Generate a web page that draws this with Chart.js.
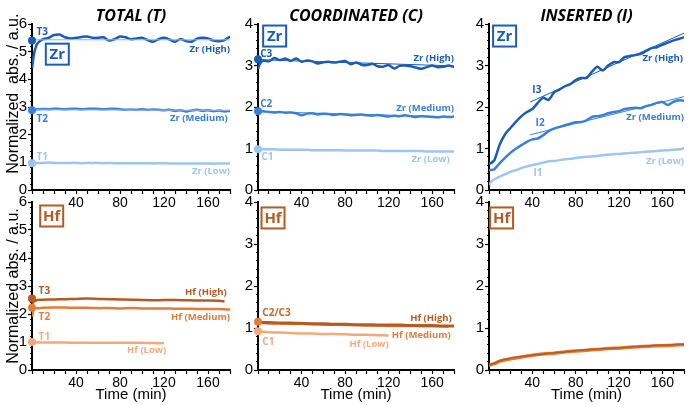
<!DOCTYPE html>
<html>
<head>
<meta charset="utf-8">
<script src="https://cdn.jsdelivr.net/npm/chart.js@4.4.1/dist/chart.umd.min.js"></script>
<style>
  body { margin: 0; background: #fff; }
  #wrap { position: relative; width: 690px; height: 405px; overflow: hidden; }
  #wrap canvas { position: absolute; }
</style>
</head>
<body>
<div id="wrap">
  <canvas id="zrTotal" width="236" height="214" style="left:0;top:0"></canvas>
  <canvas id="zrCoord" width="232" height="214" style="left:228px;top:0"></canvas>
  <canvas id="zrIns" width="231" height="214" style="left:459px;top:0"></canvas>
  <canvas id="hfTotal" width="236" height="215" style="left:0;top:190px"></canvas>
  <canvas id="hfCoord" width="232" height="215" style="left:228px;top:190px"></canvas>
  <canvas id="hfIns" width="231" height="215" style="left:459px;top:190px"></canvas>
</div>
<script>
// sampling times (min)
const timeZr = [0, 2, 5, 10, 15, 20, 25, 30, 35, 40, 45, 50, 55, 60, 65, 70, 75, 80, 85, 90, 95, 100,
  105, 110, 115, 120, 125, 130, 135, 140, 145, 150, 155, 160, 165, 170, 175, 180];
const timeHf = [0, 2, 5, 10, 20, 30, 40, 50, 60, 70, 80, 90, 100, 110, 120, 130, 140, 150, 160, 170, 175, 180];
const fitSpan = [0, 180];
const fitSpanIns = [38, 180];

// Zr - total
const zrTotHigh = [4.4, 4.95, 5.3, 5.45, 5.5, 5.6, 5.62, 5.52, 5.48, 5.5, 5.53, 5.55, 5.5, 5.5, 5.52, 5.4, 5.45, 5.55, 5.52,
  5.45, 5.48, 5.5, 5.42, 5.36, 5.45, 5.5, 5.44, 5.36, 5.46, 5.38, 5.36, 5.47, 5.5, 5.48, 5.4, 5.38, 5.42, 5.55];
const zrTotMed = [2.88, 2.9, 2.92, 2.93, 2.92, 2.94, 2.93, 2.92, 2.93, 2.94, 2.92, 2.93, 2.94, 2.93, 2.92, 2.93, 2.94, 2.92, 2.9,
  2.91, 2.9, 2.92, 2.9, 2.91, 2.9, 2.88, 2.9, 2.86, 2.88, 2.84, 2.87, 2.9, 2.86, 2.88, 2.85, 2.87, 2.84, 2.86];
const zrTotLow = [0.98, 0.98, 0.98, 0.98, 0.99, 0.98, 0.98, 0.98, 0.98, 0.98, 0.97, 0.98, 0.98, 0.98, 0.97, 0.98, 0.97, 0.97, 0.97,
  0.97, 0.97, 0.97, 0.97, 0.96, 0.97, 0.97, 0.96, 0.96, 0.96, 0.96, 0.96, 0.96, 0.96, 0.96, 0.95, 0.96, 0.96, 0.96];
const zrTotHighFit = [5.43, 5.43];
const zrTotMedFit = [2.9, 2.88];
const zrTotMarkers = [5.4, 2.88, 0.97];

// Zr - coordinated
const zrCoHigh = [2.92, 3.05, 3.12, 3.1, 3.18, 3.13, 3.17, 3.11, 3.17, 3.09, 3.12, 3.1, 3.05, 3.08, 3.09, 3.07, 3.09, 3.11, 3.03,
  3.07, 3.02, 3.01, 3.04, 2.98, 2.97, 3.01, 2.93, 2.99, 3.0, 2.98, 2.95, 2.92, 2.96, 3.0, 2.96, 2.97, 3.0, 2.96];
const zrCoMed = [1.88, 1.89, 1.9, 1.88, 1.87, 1.88, 1.86, 1.87, 1.85, 1.8, 1.84, 1.85, 1.82, 1.84, 1.83, 1.81, 1.83, 1.82, 1.8,
  1.81, 1.82, 1.8, 1.79, 1.81, 1.79, 1.77, 1.79, 1.78, 1.8, 1.78, 1.76, 1.78, 1.77, 1.76, 1.75, 1.77, 1.76, 1.77];
const zrCoLow = [0.98, 0.98, 0.98, 0.98, 0.98, 0.97, 0.97, 0.97, 0.97, 0.97, 0.97, 0.96, 0.96, 0.96, 0.96, 0.96, 0.96, 0.95, 0.95,
  0.95, 0.95, 0.95, 0.95, 0.95, 0.94, 0.94, 0.94, 0.94, 0.94, 0.94, 0.94, 0.94, 0.93, 0.93, 0.93, 0.93, 0.93, 0.93];
const zrCoHighFit = [3.14, 2.99];
const zrCoMedFit = [1.89, 1.76];
const zrCoMarkers = [3.15, 1.9, 0.98];

// Zr - inserted
const zrInsHigh = [0.62, 0.65, 0.72, 1.1, 1.35, 1.5, 1.65, 1.78, 1.88, 1.95, 2.1, 2.22, 2.17, 2.35, 2.42, 2.5, 2.55, 2.65, 2.7,
  2.7, 2.85, 2.97, 2.88, 3.0, 3.08, 3.08, 3.2, 3.23, 3.25, 3.28, 3.35, 3.42, 3.44, 3.5, 3.55, 3.6, 3.64, 3.68];
const zrInsMed = [0.48, 0.48, 0.5, 0.65, 0.78, 0.9, 1.0, 1.08, 1.16, 1.22, 1.24, 1.32, 1.42, 1.48, 1.52, 1.56, 1.6, 1.63, 1.64,
  1.68, 1.76, 1.78, 1.8, 1.85, 1.88, 1.9, 1.95, 1.97, 1.98, 1.97, 2.02, 2.05, 2.1, 2.12, 2.05, 2.12, 2.16, 2.15];
const zrInsLow = [0.12, 0.2, 0.26, 0.32, 0.38, 0.44, 0.48, 0.53, 0.57, 0.6, 0.63, 0.66, 0.69, 0.7, 0.72, 0.74, 0.75, 0.77, 0.79,
  0.8, 0.81, 0.82, 0.84, 0.85, 0.86, 0.87, 0.88, 0.89, 0.9, 0.91, 0.92, 0.93, 0.94, 0.95, 0.96, 0.97, 0.98, 1.0];
const zrInsHighFit = [2.12, 3.78];
const zrInsMedFit = [1.33, 2.25];

// Hf - total
const hfTotHigh = [2.38, 2.45, 2.5, 2.51, 2.52, 2.53, 2.54, 2.55, 2.54, 2.53, 2.52, 2.51, 2.5, 2.49, 2.5, 2.5, 2.49, 2.48, 2.48, 2.47, 2.45];
const hfTotMed = [1.9, 2.22, 2.2, 2.22, 2.23, 2.23, 2.22, 2.22, 2.21, 2.21, 2.2, 2.21, 2.2, 2.2, 2.2, 2.19, 2.19, 2.18, 2.18, 2.18, 2.17, 2.16];
const hfTotLow = [0.99, 0.99, 0.98, 0.98, 0.98, 0.98, 0.97, 0.97, 0.97, 0.97, 0.97, 0.97, 0.97, 0.96, 0.96];
const hfTotMarkers = [2.55, 2.22, 1.0];

// Hf - coordinated
const hfCoHigh = [1.12, 1.13, 1.13, 1.13, 1.12, 1.12, 1.11, 1.1, 1.1, 1.09, 1.09, 1.08, 1.08, 1.07, 1.07, 1.07, 1.06, 1.06, 1.06, 1.05, 1.05, 1.05];
const hfCoMed = [1.1, 1.12, 1.12, 1.11, 1.11, 1.1, 1.1, 1.09, 1.08, 1.08, 1.07, 1.07, 1.06, 1.06, 1.05, 1.05, 1.05, 1.04, 1.04, 1.04, 1.03];
const hfCoLow = [0.93, 0.92, 0.91, 0.9, 0.89, 0.88, 0.87, 0.87, 0.86, 0.86, 0.85, 0.84, 0.84, 0.83, 0.82];
const hfCoMarkers = [1.15, 0.92];

// Hf - inserted
const hfInsHigh = [0.13, 0.14, 0.16, 0.22, 0.28, 0.32, 0.35, 0.38, 0.41, 0.43, 0.46, 0.48, 0.5, 0.51, 0.53, 0.55, 0.56, 0.58, 0.59, 0.6, 0.61, 0.61];
const hfInsMed = [0.12, 0.13, 0.15, 0.21, 0.27, 0.31, 0.35, 0.38, 0.4, 0.43, 0.45, 0.47, 0.49, 0.51, 0.52, 0.54, 0.56, 0.57, 0.58, 0.59, 0.6, 0.6];

const ZR = { high: '#1c5cb8', med: '#3a80d9', low: '#9cc5f2' };
const HF = { high: '#b55a22', med: '#e27d38', low: '#f3a97d' };

const AXIS_FONT = "'Liberation Sans', Arial, sans-serif";
const NOTE_FONT = "'Open Sans', sans-serif";
Chart.defaults.font.family = AXIS_FONT;
Chart.defaults.color = '#000';

const pts = (times, values) => values.map((v, i) => ({ x: times[i], y: v }));

const line = (times, values, color, width) => ({
    data: pts(times, values), borderColor: color, borderWidth: width,
    pointRadius: 0, tension: 0.25, fill: false
});
const fitLine = (times, values, color) => ({ ...line(times, values, color, 1), tension: 0 });
const markers = (values, colors) => ({
    data: values.map(v => ({ x: 0, y: v })), showLine: false, clip: false,
    pointRadius: 4, pointBackgroundColor: colors, pointBorderColor: colors, pointBorderWidth: 0
});

// titles, element tags and line labels, placed in data units
const notesPlugin = {
    id: 'notes',
    afterDatasetsDraw(chart, args, opts) {
        const { ctx, chartArea, scales: { x, y } } = chart;
        ctx.save();
        ctx.textBaseline = 'middle';
        if (opts.title) {
            ctx.font = `italic bold 16px ${NOTE_FONT}`;
            ctx.fillStyle = '#000';
            ctx.textAlign = 'center';
            ctx.fillText(opts.title, (chartArea.left + chartArea.right) / 2, chartArea.top - 8);
        }
        if (opts.tag) {
            const t = opts.tag;
            const cx = x.getPixelForValue(t.x), cy = y.getPixelForValue(t.y);
            ctx.strokeStyle = t.color;
            ctx.lineWidth = 2;
            ctx.strokeRect(cx - 11.5, cy - 10.5, 23, 21);
            ctx.fillStyle = t.color;
            ctx.textAlign = 'center';
            ctx.font = `bold 15px ${NOTE_FONT}`;
            ctx.fillText(t.text, cx, cy + 1);
        }
        (opts.labels || []).forEach(l => {
            ctx.font = `bold ${l.size || 9.5}px ${NOTE_FONT}`;
            ctx.fillStyle = l.color;
            ctx.textAlign = l.align || 'right';
            ctx.fillText(l.text, x.getPixelForValue(l.x), y.getPixelForValue(l.y));
        });
        ctx.restore();
    }
};

const makePanel = (id, { ymax, datasets, notes, bottomRow, yTitle }) => {
    const yWidth = yTitle ? 32 : 30;
    new Chart(document.getElementById(id), {
        type: 'line',
        data: { datasets },
        options: {
            responsive: false,
            animation: false,
            events: [],
            layout: { padding: { top: bottomRow ? 12 : 24, right: 6, left: 0, bottom: 0 } },
            plugins: { legend: { display: false }, tooltip: { enabled: false }, notes },
            scales: {
                x: {
                    type: 'linear', min: 0, max: 180,
                    border: { color: '#000', width: 2 },
                    grid: { drawOnChartArea: false, color: '#000', tickLength: 4, tickWidth: 1.2 },
                    ticks: {
                        stepSize: 10, autoSkip: false, maxRotation: 0, padding: 1,
                        font: { size: 14 },
                        callback: v => (v > 0 && v % 40 === 0) ? v : ''
                    },
                    title: { display: !!bottomRow, text: 'Time (min)', font: { size: 15 }, padding: { top: 0, bottom: 1 } },
                    afterFit: s => { s.height = bottomRow ? 35 : 24; }
                },
                y: {
                    min: 0, max: ymax, position: 'left', weight: 1,
                    border: { color: '#000', width: 2 },
                    grid: { drawOnChartArea: false, color: '#000', tickLength: 4, tickWidth: 1.2 },
                    ticks: { stepSize: 1, padding: 1, font: { size: 15 } },
                    title: { display: !!yTitle, text: yTitle, font: { size: 16 }, padding: { top: 4, bottom: 0 } },
                    afterFit: s => { s.width = yWidth; }
                },
                yMinor: {
                    min: 0, max: ymax, position: 'left', weight: 0,
                    border: { display: false },
                    grid: { drawOnChartArea: false, color: '#000', tickLength: 2, tickWidth: 1 },
                    ticks: { stepSize: 0.2, display: false },
                    afterFit: s => { s.width = 0; }
                }
            }
        },
        plugins: [notesPlugin]
    });
};

makePanel('zrTotal', {
    ymax: 6, yTitle: '      Normalized  abs. / a.u.',
    datasets: [
        markers(zrTotMarkers, [ZR.high, ZR.med, ZR.low]),
        fitLine(fitSpan, zrTotHighFit, '#8fb3e6'),
        fitLine(fitSpan, zrTotMedFit, '#8fb3e6'),
        line(timeZr, zrTotHigh, ZR.high, 2.5),
        line(timeZr, zrTotMed, ZR.med, 2.5),
        line(timeZr, zrTotLow, ZR.low, 2.5)
    ],
    notes: {
        title: 'TOTAL (T)',
        tag: { text: 'Zr', x: 23, y: 4.91, color: ZR.high },
        labels: [
            { text: 'T3', x: 4, y: 5.71, color: ZR.high, align: 'left', size: 10 },
            { text: 'T2', x: 4, y: 2.55, color: ZR.med, align: 'left', size: 10 },
            { text: 'T1', x: 4, y: 1.2, color: ZR.low, align: 'left', size: 10 },
            { text: 'Zr (High)', x: 180, y: 5.09, color: ZR.high },
            { text: 'Zr (Medium)', x: 178, y: 2.6, color: ZR.med },
            { text: 'Zr (Low)', x: 180, y: 0.69, color: ZR.low }
        ]
    }
});

makePanel('zrCoord', {
    ymax: 4,
    datasets: [
        markers(zrCoMarkers, [ZR.high, ZR.med, ZR.low]),
        fitLine(fitSpan, zrCoHighFit, ZR.high),
        fitLine(fitSpan, zrCoMedFit, ZR.med),
        line(timeZr, zrCoHigh, ZR.high, 2.5),
        line(timeZr, zrCoMed, ZR.med, 2.5),
        line(timeZr, zrCoLow, ZR.low, 2.5)
    ],
    notes: {
        title: 'COORDINATED (C)',
        tag: { text: 'Zr', x: 15.3, y: 3.71, color: ZR.high },
        labels: [
            { text: 'C3', x: 2, y: 3.28, color: ZR.high, align: 'left', size: 10 },
            { text: 'C2', x: 2, y: 2.06, color: ZR.med, align: 'left', size: 10 },
            { text: 'C1', x: 3, y: 0.8, color: ZR.low, align: 'left', size: 10 },
            { text: 'Zr (High)', x: 180, y: 3.18, color: ZR.high },
            { text: 'Zr (Medium)', x: 180, y: 1.96, color: ZR.med },
            { text: 'Zr (Low)', x: 176, y: 0.74, color: ZR.low }
        ]
    }
});

makePanel('zrIns', {
    ymax: 4,
    datasets: [
        fitLine(fitSpanIns, zrInsHighFit, ZR.high),
        fitLine(fitSpanIns, zrInsMedFit, ZR.med),
        line(timeZr, zrInsHigh, ZR.high, 2.5),
        line(timeZr, zrInsMed, ZR.med, 2.5),
        line(timeZr, zrInsLow, ZR.low, 2.5)
    ],
    notes: {
        title: 'INSERTED (I)',
        tag: { text: 'Zr', x: 14.4, y: 3.71, color: ZR.high },
        labels: [
            { text: 'I3', x: 40, y: 2.4, color: ZR.high, align: 'left', size: 10 },
            { text: 'I2', x: 43, y: 1.6, color: ZR.med, align: 'left', size: 10 },
            { text: 'I1', x: 41, y: 0.4, color: ZR.low, align: 'left', size: 10 },
            { text: 'Zr (High)', x: 179, y: 3.18, color: ZR.high },
            { text: 'Zr (Medium)', x: 180, y: 1.74, color: ZR.med },
            { text: 'Zr (Low)', x: 180, y: 0.7, color: ZR.low }
        ]
    }
});

makePanel('hfTotal', {
    ymax: 6, bottomRow: true, yTitle: 'Normalized abs. / a.u.',
    datasets: [
        markers(hfTotMarkers, [HF.high, HF.med, HF.low]),
        line(timeHf, hfTotHigh, HF.high, 2.5),
        line(timeHf, hfTotMed, HF.med, 2.5),
        line(timeHf, hfTotLow, HF.low, 2.5)
    ],
    notes: {
        tag: { text: 'Hf', x: 17.9, y: 5.5, color: HF.high },
        labels: [
            { text: 'T3', x: 6, y: 2.8, color: HF.high, align: 'left', size: 10 },
            { text: 'T2', x: 6, y: 1.89, color: HF.med, align: 'left', size: 10 },
            { text: 'T1', x: 6, y: 1.19, color: HF.low, align: 'left', size: 10 },
            { text: 'Hf (High)', x: 177, y: 2.76, color: HF.high },
            { text: 'Hf (Medium)', x: 180, y: 1.89, color: HF.med },
            { text: 'Hf (Low)', x: 122, y: 0.69, color: HF.low }
        ]
    }
});

makePanel('hfCoord', {
    ymax: 4, bottomRow: true,
    datasets: [
        markers(hfCoMarkers, [HF.med, HF.low]),
        line(timeHf, hfCoHigh, HF.high, 3),
        line(timeHf, hfCoMed, HF.med, 2.5),
        line(timeHf, hfCoLow, HF.low, 2.5)
    ],
    notes: {
        tag: { text: 'Hf', x: 13.8, y: 3.62, color: HF.high },
        labels: [
            { text: 'C2/C3', x: 4, y: 1.36, color: '#c8672a', align: 'left', size: 10 },
            { text: 'C1', x: 4, y: 0.67, color: HF.low, align: 'left', size: 10 },
            { text: 'Hf (High)', x: 178, y: 1.23, color: HF.high },
            { text: 'Hf (Medium)', x: 177, y: 0.83, color: HF.med },
            { text: 'Hf (Low)', x: 120, y: 0.62, color: HF.low }
        ]
    }
});

makePanel('hfIns', {
    ymax: 4, bottomRow: true,
    datasets: [
        line(timeHf, hfInsHigh, HF.high, 1.5),
        line(timeHf, hfInsMed, HF.med, 3.5)
    ],
    notes: {
        tag: { text: 'Hf', x: 11.6, y: 3.62, color: HF.high }
    }
});
</script>
</body>
</html>
